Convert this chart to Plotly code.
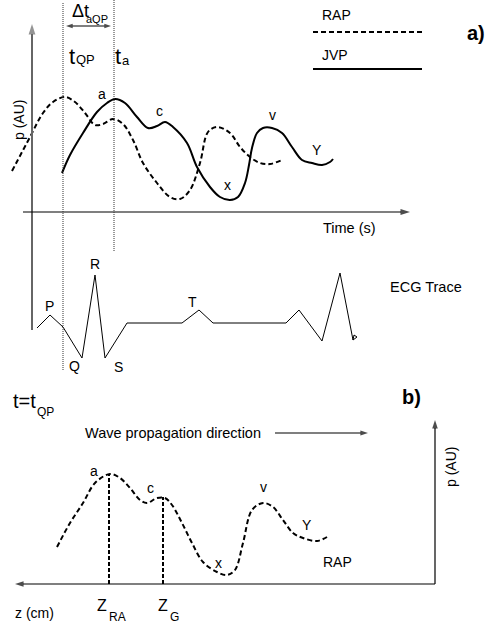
import plotly.graph_objects as go

# ---- data (read from the schematic, canvas units: x 0..488, y 0..628 downward) ----
rap_a_x = [12, 30, 43, 53, 65, 75, 85, 95, 103, 113, 123, 133, 143, 157, 170, 180, 190, 200, 208, 217, 230, 240, 250, 260, 270, 282]
rap_a_y = [171, 137, 113, 102, 97, 102, 113, 125, 124, 119, 124, 140, 163, 183, 197, 199, 190, 163, 132, 127, 133, 147, 157, 163, 164, 160]

jvp_x = [62, 70, 83, 97, 107, 115, 125, 137, 148, 157, 165, 173, 187, 197, 210, 220, 230, 238, 245, 249, 252, 257, 263, 272, 282, 292, 302, 312, 322, 330, 333]
jvp_y = [173, 155, 133, 112, 103, 99, 103, 117, 128, 126, 122, 127, 143, 167, 187, 197, 200, 197, 183, 165, 148, 133, 128, 128, 133, 147, 160, 163, 165, 162, 159]

ecg_x = [37, 50, 63, 82, 95, 105, 127, 182, 199, 213, 286, 299, 322, 340, 353, 357, 354, 353]
ecg_y = [328, 315, 327, 358, 275, 358, 323, 323, 310, 323, 323, 310, 341, 273, 340, 337, 335, 340]

rap_b_x = [57, 70, 83, 95, 110, 120, 130, 140, 147, 157, 165, 172, 182, 192, 203, 217, 227, 235, 243, 252, 263, 273, 283, 293, 303, 317, 327]
rap_b_y = [547, 523, 503, 483, 474, 478, 488, 500, 503, 498, 498, 505, 523, 543, 562, 572, 575, 570, 543, 510, 503, 507, 520, 533, 538, 541, 537]

FONT = "Liberation Sans, Arial, sans-serif"

fig = go.Figure()
dash_pat = "5px,3px"

def curve(x, y, dash=None, width=2, shape="spline"):
    ln = dict(color="black", width=width, shape=shape)
    if shape == "spline":
        ln["smoothing"] = 1.0
    if dash:
        ln["dash"] = dash
    fig.add_trace(go.Scatter(x=x, y=y, mode="lines", line=ln, hoverinfo="skip"))

curve(rap_a_x, rap_a_y, dash=dash_pat)
curve(jvp_x, jvp_y)
curve(ecg_x, ecg_y, width=1, shape="linear")
curve(rap_b_x, rap_b_y, dash=dash_pat)

def arrow(x0, y0, x1, y1, width=1.2, color="black", size=9):
    fig.add_trace(go.Scatter(x=[x0, x1], y=[y0, y1], mode="lines+markers",
                             line=dict(color=color, width=width),
                             marker=dict(symbol="arrow", angleref="previous", size=[0, size], color=color,
                                         line=dict(width=0)),
                             hoverinfo="skip"))

# panel a axes
arrow(32, 330, 32, 24, width=2, color="#666666", size=11)
arrow(23, 212, 410, 212, width=1.2, size=10)
# delta t double arrow
arrow(88, 26, 66, 26, width=1, size=7)
arrow(88, 26, 111, 26, width=1, size=7)
# panel b
arrow(275, 433, 368, 433, width=1.2, size=8)
arrow(435, 584, 435, 420, width=1.2, size=9)
arrow(435, 584, 15, 584, width=1.2, size=9)

shapes = []
shapes.append(dict(type="line", x0=313, x1=422, y0=32, y1=32, line=dict(color="black", width=2, dash=dash_pat)))
shapes.append(dict(type="line", x0=313, x1=422, y0=69, y1=69, line=dict(color="black", width=2)))
shapes.append(dict(type="line", x0=63, x1=63, y0=3, y1=371, line=dict(color="#333333", width=1, dash="1px,1px")))
shapes.append(dict(type="line", x0=114, x1=114, y0=0, y1=252, line=dict(color="#333333", width=1, dash="1px,1px")))
shapes.append(dict(type="line", x0=109, x1=109, y0=584, y1=475, line=dict(color="black", width=2, dash="4px,2px")))
shapes.append(dict(type="line", x0=163, x1=163, y0=584, y1=497, line=dict(color="black", width=2, dash="4px,2px")))
fig.update_layout(shapes=shapes)

ann = []
def txt(x, y, s, size=14, angle=0, bold=False, xanchor="center"):
    if bold:
        s = "<b>" + s + "</b>"
    ann.append(dict(x=x, y=y, xref="x", yref="y", text=s, showarrow=False, textangle=angle,
                    xanchor=xanchor, yanchor="middle", font=dict(family=FONT, size=size, color="black")))

txt(80, 11, "Δt", size=18)
txt(97, 19, "aQP", size=11)
txt(72, 56, "t", size=22)
txt(85, 59, "QP", size=13)
txt(118, 56, "t", size=22)
txt(126, 60, "a", size=13)
txt(19, 120, "p (AU)", size=14, angle=-90)
txt(102, 94, "a", size=14)
txt(159, 111, "c", size=14)
txt(227, 185, "x", size=14)
txt(272, 115, "v", size=14)
txt(317, 150, "Y", size=14)
txt(320, 15, "RAP", size=14, xanchor="left")
txt(320, 55, "JVP", size=14, xanchor="left")
txt(476, 33, "a)", size=20, bold=True)
txt(349, 228, "Time (s)", size=14.5)

txt(49, 306, "P", size=14)
txt(95, 264, "R", size=14)
txt(74, 366, "Q", size=14)
txt(118, 367, "S", size=14)
txt(192, 302, "T", size=14)
txt(426, 287, "ECG Trace", size=14.5)

txt(24, 401, "t=t", size=20)
txt(45, 412, "QP", size=12)
txt(411, 397, "b)", size=20, bold=True)
txt(173, 433, "Wave propagation direction", size=14.5)
txt(451, 467, "p (AU)", size=14, angle=-90)
txt(34, 613, "z (cm)", size=14)
txt(102, 605, "Z", size=16)
txt(117, 617, "RA", size=12)
txt(163, 605, "Z", size=16)
txt(174, 617, "G", size=12)
txt(94, 471, "a", size=14)
txt(150, 488, "c", size=14)
txt(263, 487, "v", size=14)
txt(307, 525, "Y", size=14)
txt(218, 563, "x", size=14)
txt(337, 562, "RAP", size=14)

fig.update_layout(
    annotations=ann,
    width=488, height=628,
    margin=dict(l=0, r=0, t=0, b=0),
    paper_bgcolor="white", plot_bgcolor="white",
    showlegend=False,
    xaxis=dict(range=[0, 488], visible=False, fixedrange=True),
    yaxis=dict(range=[628, 0], visible=False, fixedrange=True),
    font=dict(family=FONT),
)
fig.write_html("out.html", config={"displayModeBar": False},
               post_script="document.body.style.margin='0';document.body.style.overflow='hidden';")
